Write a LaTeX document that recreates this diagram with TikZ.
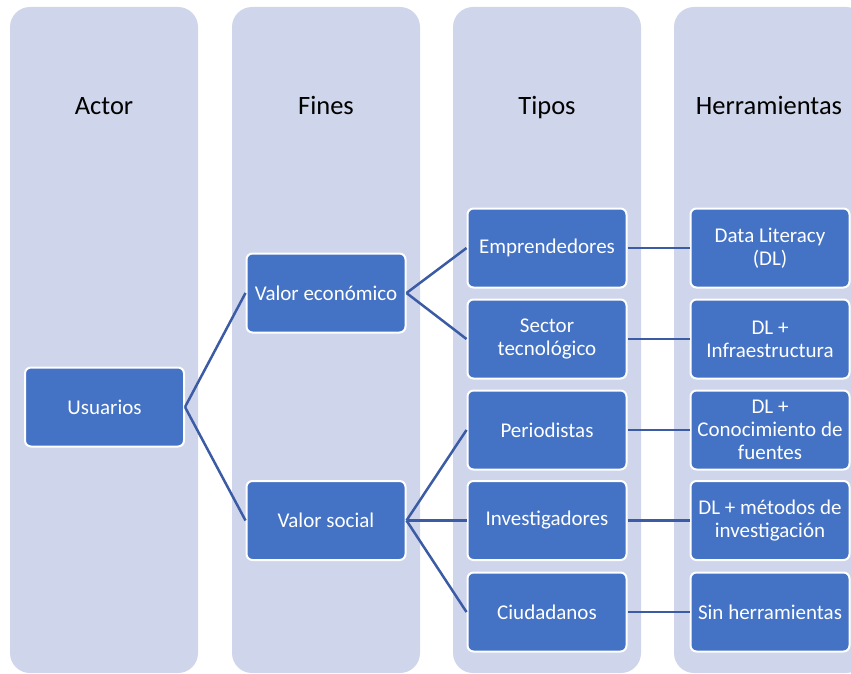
\documentclass[tikz,border=0pt]{standalone}
\usepackage{fontspec}
\setmainfont{Carlito}
\usepackage{tikz}
\usetikzlibrary{positioning}

\definecolor{lane}{RGB}{207,213,234}
\definecolor{boxblue}{RGB}{68,114,196}
\definecolor{linkblue}{RGB}{59,92,165}

\tikzset{
  lane/.style={fill=lane,draw=none,rounded corners=20pt},
  head/.style={font=\fontsize{26.5}{30}\selectfont,text=black,anchor=base},
  box/.style={rectangle,rounded corners=6pt,fill=boxblue,draw=white,line width=2pt,
    minimum width=159pt,minimum height=79pt,align=center,
    text=white,font=\fontsize{21}{23}\selectfont,inner sep=1pt},
  link/.style={draw=linkblue,line width=2.5pt}
}

\begin{document}
\begin{tikzpicture}[x=1pt,y=-1pt]
\useasboundingbox (0,0) rectangle (851,674);
% columns
\fill[lane] (10,7) rectangle (198,673);
\fill[lane] (232,7) rectangle (420,673);
\fill[lane] (453,7) rectangle (641,673);
\fill[lane] (674,7) rectangle (866,673);
% headings
\node[head](hactor) at (104,115){Actor};
\node[head](hfines) at (326,115){Fines};
\node[head](htipos) at (547,115){Tipos};
\node[head](hherr) at (769,115){Herramientas};
% boxes
\node[box](usuarios) at (104.5,407){Usuarios};
\node[box](economico) at (326,293){Valor económico};
\node[box](social) at (326,520.5){Valor social};
\node[box](emprend) at (547,248){Emprendedores};
\node[box](sector) at (547,339){Sector\\tecnológico};
\node[box](periodistas) at (547,430){Periodistas};
\node[box](investig) at (547,520.5){Investigadores};
\node[box](ciudadanos) at (547,612){Ciudadanos};
\node[box](datalit) at (770,248){Data Literacy\\(DL)};
\node[box](infra) at (770,339){DL +\\Infraestructura};
\node[box](fuentes) at (770,430){DL +\\Conocimiento de\\fuentes};
\node[box](metodos) at (770,520.5){DL + métodos de\\investigación};
\node[box](sinherr) at (770,612){Sin herramientas};
% connectors
\draw[link] (usuarios.east) -- (economico.west);
\draw[link] (usuarios.east) -- (social.west);
\draw[link] (economico.east) -- (emprend.west);
\draw[link] (economico.east) -- (sector.west);
\draw[link] (social.east) -- (periodistas.west);
\draw[link] (social.east) -- (investig.west);
\draw[link] (social.east) -- (ciudadanos.west);
\draw[link] (emprend) -- (datalit);
\draw[link] (sector) -- (infra);
\draw[link] (periodistas) -- (fuentes);
\draw[link] (investig) -- (metodos);
\draw[link] (ciudadanos) -- (sinherr);
\end{tikzpicture}
\end{document}
